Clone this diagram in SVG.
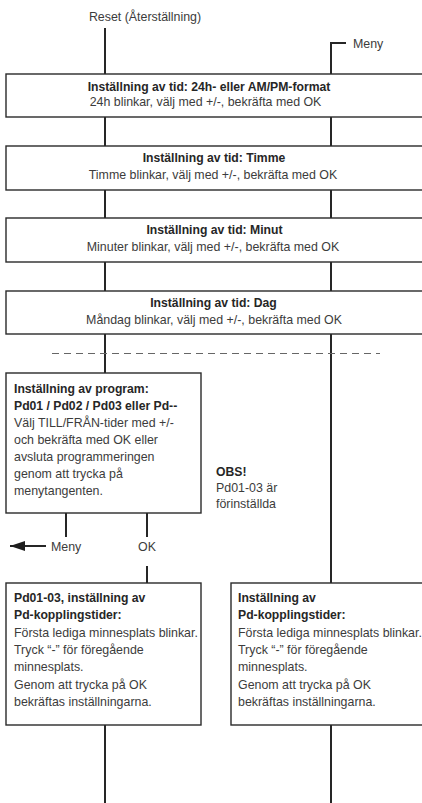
<svg xmlns="http://www.w3.org/2000/svg" width="422" height="803" viewBox="0 0 422 803">
<defs>
<style>
.t{font-family:"Liberation Sans",Arial,sans-serif;font-size:12.4px;fill:#3c3c3c}
.b{font-family:"Liberation Sans",Arial,sans-serif;font-size:12.2px;font-weight:bold;fill:#262626}
.c{text-anchor:middle}
.box{fill:#fff;stroke:#2a2a2a;stroke-width:1.4}
.ln{fill:none;stroke:#262626;stroke-width:2}
.dash{fill:none;stroke:#666;stroke-width:1.2;stroke-dasharray:7 5}
</style>
<marker id="ah" markerWidth="15" markerHeight="10" refX="15" refY="5" orient="auto" markerUnits="userSpaceOnUse" viewBox="0 0 15 10">
<path d="M0,0 L15,5 L0,10 Z" fill="#1e1e1e"/>
</marker>
</defs>
<rect width="422" height="803" fill="#fff"/>
<g id="connectors">
<path class="ln" d="M105 28 V74 M105 117 V146 M105 190 V218 M105 262 V291 M105 334 V373"/>
<path class="ln" d="M346 43 H331 V74 M331 117 V146 M331 190 V218 M331 262 V291 M331 334 V583"/>
<path class="ln" d="M66 513 V537 M147 513 V537 M147 566 V583"/>
<path class="ln" d="M46 546 H10" marker-end="url(#ah)"/>
<path class="ln" d="M105 725 V803 M331 725 V803"/>
<path class="dash" d="M52 353.5 H380"/>
</g>
<g id="reset"><text class="t c" x="145" y="20.5">Reset (Återställning)</text></g>
<g id="meny-top"><text class="t" x="353" y="48">Meny</text></g>
<g id="box-format">
<rect class="box" x="6" y="74" width="418" height="43"/>
<text class="b c" x="209" y="90.5">Inställning av tid: 24h- eller AM/PM-format</text>
<text class="t c" x="205.5" y="106">24h blinkar, välj med +/-, bekräfta med OK</text>
</g>
<g id="box-timme">
<rect class="box" x="6" y="146" width="418" height="44"/>
<text class="b c" x="214" y="162">Inställning av tid: Timme</text>
<text class="t c" x="213" y="178.5">Timme blinkar, välj med +/-, bekräfta med OK</text>
</g>
<g id="box-minut">
<rect class="box" x="6" y="218" width="418" height="44"/>
<text class="b c" x="214.5" y="234">Inställning av tid: Minut</text>
<text class="t c" x="213" y="251">Minuter blinkar, välj med +/-, bekräfta med OK</text>
</g>
<g id="box-dag">
<rect class="box" x="6" y="291" width="418" height="43"/>
<text class="b c" x="213.5" y="307">Inställning av tid: Dag</text>
<text class="t c" x="214" y="324">Måndag blinkar, välj med +/-, bekräfta med OK</text>
</g>
<g id="box-program">
<rect class="box" x="6" y="373" width="195" height="140"/>
<text class="b" x="14" y="393">Inställning av program:</text>
<text class="b" x="14" y="410">Pd01 / Pd02 / Pd03 eller Pd--</text>
<text class="t" x="14" y="427">Välj TILL/FRÅN-tider med +/-</text>
<text class="t" x="14" y="444">och bekräfta med OK eller</text>
<text class="t" x="14" y="461">avsluta programmeringen</text>
<text class="t" x="14" y="478">genom att trycka på</text>
<text class="t" x="14" y="495">menytangenten.</text>
</g>
<g id="obs">
<text class="b" x="216" y="476">OBS!</text>
<text class="t" x="216" y="492">Pd01-03 är</text>
<text class="t" x="216" y="508">förinställda</text>
</g>
<g id="label-meny"><text class="t" x="51" y="551">Meny</text></g>
<g id="label-ok"><text class="t c" x="147" y="551">OK</text></g>
<g id="box-pd-left">
<rect class="box" x="6" y="583" width="195" height="142"/>
<text class="b" x="14" y="602">Pd01-03, inställning av</text>
<text class="b" x="14" y="619">Pd-kopplingstider:</text>
<text class="t" x="14" y="636.5">Första lediga minnesplats blinkar.</text>
<text class="t" x="14" y="654">Tryck “-” för föregående</text>
<text class="t" x="14" y="671">minnesplats.</text>
<text class="t" x="14" y="688.5">Genom att trycka på OK</text>
<text class="t" x="14" y="706">bekräftas inställningarna.</text>
</g>
<g id="box-pd-right">
<rect class="box" x="231" y="583" width="193" height="142"/>
<text class="b" x="238" y="602">Inställning av</text>
<text class="b" x="238" y="619">Pd-kopplingstider:</text>
<text class="t" x="238" y="636.5">Första lediga minnesplats blinkar.</text>
<text class="t" x="238" y="654">Tryck “-” för föregående</text>
<text class="t" x="238" y="671">minnesplats.</text>
<text class="t" x="238" y="688.5">Genom att trycka på OK</text>
<text class="t" x="238" y="706">bekräftas inställningarna.</text>
</g>
</svg>
